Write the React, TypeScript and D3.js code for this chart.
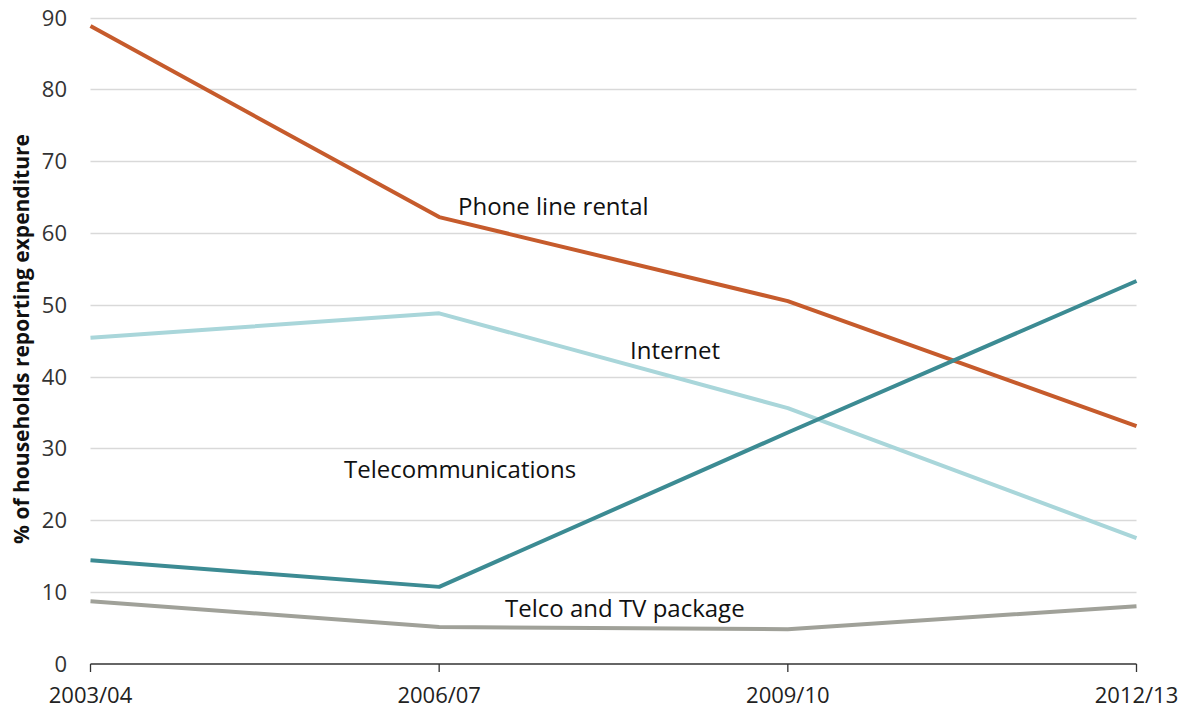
import { useRef, useEffect } from 'react'
import * as d3 from 'd3'

const years = ['2003/04', '2006/07', '2009/10', '2012/13']
const phoneLine = [88.8, 62.2, 50.5, 33.1]
const internet = [45.4, 48.8, 35.6, 17.5]
const telecoms = [14.4, 10.7, 32.2, 53.3]
const telcoTv = [8.7, 5.1, 4.8, 8.0]
const yTicks = [0, 10, 20, 30, 40, 50, 60, 70, 80, 90]

const series = [
  { name: 'Phone line rental', values: phoneLine, color: '#C65B2C', label: { x: 458, y: 215 } },
  { name: 'Internet', values: internet, color: '#A9D6DA', label: { x: 630, y: 359 } },
  { name: 'Telecommunications', values: telecoms, color: '#3C8B93', label: { x: 344, y: 478 } },
  { name: 'Telco and TV package', values: telcoTv, color: '#A0A199', label: { x: 505, y: 617 } },
]

const W = 1190
const H = 711
const FONT = 'Open Sans, sans-serif'

export default function App() {
  const svgRef = useRef<SVGSVGElement>(null)

  useEffect(() => {
    if (!svgRef.current) return
    const svg = d3.select(svgRef.current)
    svg.selectAll('*').remove()

    const x = d3.scalePoint<string>().domain(years).range([90.5, 1136.5])
    const y = d3.scaleLinear().domain([0, 90]).range([663.7, 17.5])

    // gridlines
    svg.append('g')
      .selectAll('line')
      .data(yTicks.filter(d => d > 0))
      .join('line')
      .attr('x1', 90.5).attr('x2', 1136.5)
      .attr('y1', d => Math.round(y(d)) + 0.5).attr('y2', d => Math.round(y(d)) + 0.5)
      .attr('stroke', '#D9D9D9').attr('stroke-width', 1.3)

    // y tick labels
    svg.append('g')
      .selectAll('text')
      .data(yTicks)
      .join('text')
      .attr('x', 67).attr('y', d => y(d) + 8)
      .attr('text-anchor', 'end')
      .attr('font-family', FONT).attr('font-size', 22)
      .attr('fill', '#333')
      .text(d => d)

    // x axis
    const xa = svg.append('g')
    xa.append('line')
      .attr('x1', 90.5).attr('x2', 1136.5)
      .attr('y1', 664).attr('y2', 664)
      .attr('stroke', '#333').attr('stroke-width', 1.3)
    xa.selectAll('line.tick')
      .data(years)
      .join('line')
      .attr('class', 'tick')
      .attr('x1', d => x(d)!).attr('x2', d => x(d)!)
      .attr('y1', 664).attr('y2', 672)
      .attr('stroke', '#333').attr('stroke-width', 1.3)
    xa.selectAll('text')
      .data(years)
      .join('text')
      .attr('x', d => x(d)!).attr('y', 703)
      .attr('text-anchor', 'middle')
      .attr('font-family', FONT).attr('font-size', 22)
      .attr('fill', '#222')
      .text(d => d)

    // y axis title
    svg.append('text')
      .attr('transform', 'translate(29,339) rotate(-90)')
      .attr('text-anchor', 'middle')
      .attr('font-family', FONT).attr('font-size', 21).attr('font-weight', 'bold')
      .attr('fill', '#111')
      .text('%  of households reporting expenditure')

    const line = d3.line<number>()
      .x((_, i) => x(years[i])!)
      .y(d => y(d))

    series.forEach(s => {
      svg.append('path')
        .datum(s.values)
        .attr('d', line)
        .attr('fill', 'none')
        .attr('stroke', s.color)
        .attr('stroke-width', 4)
        .attr('stroke-linejoin', 'round')
    })

    series.forEach(s => {
      svg.append('text')
        .attr('x', s.label.x).attr('y', s.label.y)
        .attr('font-family', FONT).attr('font-size', 24)
        .attr('fill', '#111')
        .text(s.name)
    })
  }, [])

  return (
    <div style={{ margin: -8 }}>
      <svg ref={svgRef} width={W} height={H} style={{ display: 'block', background: '#fff' }} />
    </div>
  )
}
